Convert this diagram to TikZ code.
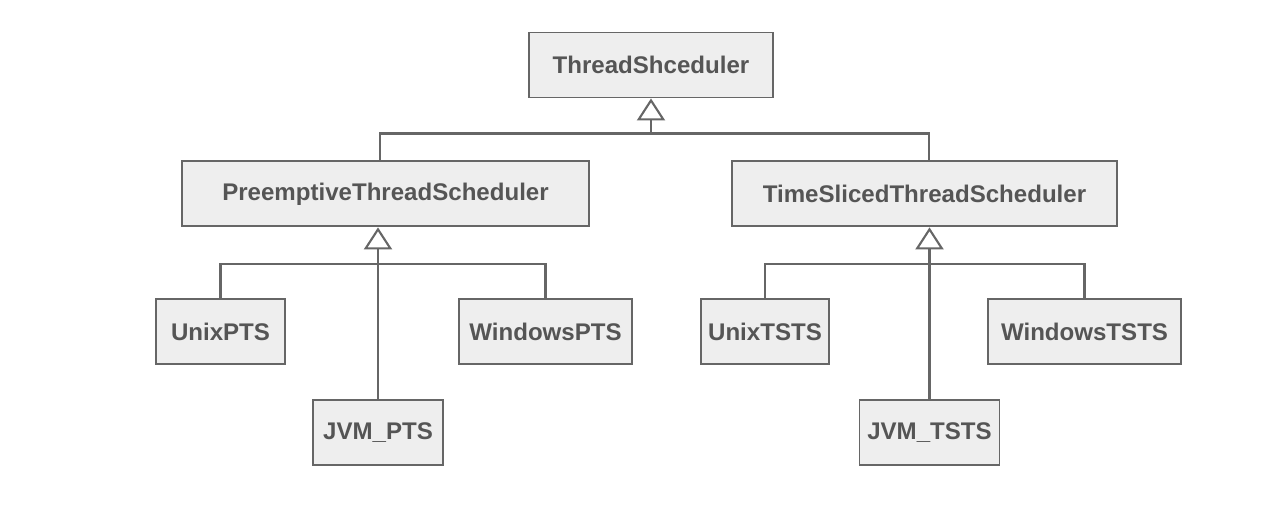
\documentclass[tikz,border=0pt]{standalone}
\usepackage{fontspec}
\setmainfont{Liberation Sans}
\usepackage{tikz}
\usetikzlibrary{positioning}
\usetikzlibrary{shapes,arrows.meta}
\definecolor{boxfill}{HTML}{EEEEEE}
\definecolor{boxline}{HTML}{666666}
\definecolor{boxtext}{HTML}{555555}
\tikzstyle{block} = [rectangle, draw=boxline, fill=boxfill, line width=1.1pt,
                text=boxtext, font=\fontsize{13.7}{16}\selectfont\bfseries,
                minimum height=1.3cm, inner sep=0pt]
\tikzstyle{line} = [draw=boxline, line width=1.2pt]
\tikzstyle{inherit} = [line, -{Triangle[open, length=0.44cm, width=0.56cm]}]

\begin{document}
\begin{tikzpicture}
                \useasboundingbox (0,0) rectangle (25.56,-10.28);
                \node[block, minimum width=4.88cm] (sched) at (13.02,-1.3) {ThreadShceduler};
                \node[block, minimum width=8.14cm, below=1.24cm of sched, xshift=-5.31cm] (preempt) {PreemptiveThreadScheduler};
                \node[block, minimum width=7.7cm, below=1.24cm of sched, xshift=5.47cm] (timesliced) {TimeSlicedThreadScheduler};
                \node[block, minimum width=2.58cm, below=1.42cm of preempt, xshift=-3.3cm] (unixpts) {UnixPTS};
                \node[block, minimum width=3.46cm, below=1.42cm of preempt, xshift=3.2cm] (winpts) {WindowsPTS};
                \node[block, minimum width=2.6cm, below=3.44cm of preempt, xshift=-0.15cm] (jvmpts) {JVM\_PTS};
                \node[block, minimum width=2.56cm, below=1.42cm of timesliced, xshift=-3.19cm] (unixtsts) {UnixTSTS};
                \node[block, minimum width=3.86cm, below=1.42cm of timesliced, xshift=3.2cm] (wintsts) {WindowsTSTS};
                \node[block, minimum width=2.8cm, below=3.44cm of timesliced, xshift=0.1cm] (jvmtsts) {JVM\_TSTS};
                \coordinate[below=0.7cm of sched] (schedbus);
                \coordinate[below=0.74cm of preempt] (ptsbus);
                \coordinate[below=0.74cm of timesliced] (tstsbus);
                \path[line] ([xshift=-0.11cm]preempt.north) |- (schedbus) -| ([xshift=0.09cm]timesliced.north);
                \path[inherit] (schedbus) -- (sched);
                \path[line] (unixpts.north) |- (ptsbus) -| (winpts.north);
                \path[inherit] (jvmpts.north) -- (jvmpts.north |- preempt.south);
                \path[line] (unixtsts.north) |- (tstsbus) -| (wintsts.north);
                \path[inherit] (jvmtsts.north) -- (jvmtsts.north |- timesliced.south);
            \end{tikzpicture}
\end{document}
